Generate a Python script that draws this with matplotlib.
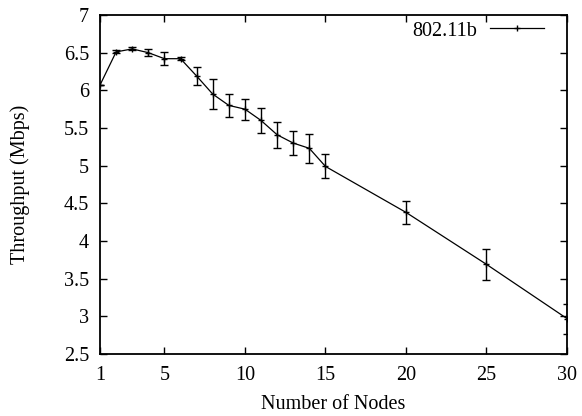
import matplotlib
matplotlib.use("Agg")
import matplotlib.pyplot as plt
from matplotlib.lines import Line2D

nodes = [1, 2, 3, 4, 5, 6, 7, 8, 9, 10, 11, 12, 13, 14, 15, 20, 25, 30]
throughput = [6.07, 6.51, 6.55, 6.50, 6.42, 6.42, 6.19, 5.95, 5.80, 5.75, 5.60, 5.41, 5.30, 5.23, 4.99, 4.38, 3.69, 2.97]
errors = [0.0, 0.02, 0.02, 0.05, 0.09, 0.02, 0.12, 0.20, 0.15, 0.14, 0.16, 0.17, 0.16, 0.19, 0.16, 0.15, 0.21, 0.20]
xticks = [1, 5, 10, 15, 20, 25, 30]
yticks = [2.5, 3, 3.5, 4, 4.5, 5, 5.5, 6, 6.5, 7]

plt.rcParams['font.family'] = ['Liberation Serif', 'DejaVu Serif']
FS = 14.5

fig = plt.figure(figsize=(5.82, 4.16), dpi=100)
ax = fig.add_axes([100/582, 1-354/416, (567-100)/582, (354-15)/416])

ax.errorbar(nodes, throughput, yerr=errors, color='black', linewidth=0.9,
            elinewidth=1.0, capsize=2.6, capthick=1.0, marker='+', markersize=4,
            markeredgewidth=1.0)

ax.set_xlim(1, 30)
ax.set_ylim(2.5, 7)
ax.set_xticks(xticks)
ax.set_xticklabels([str(v) for v in xticks])
ax.set_yticks(yticks)
ax.set_yticklabels([('%g' % v) for v in yticks])
ax.tick_params(direction='in', top=True, right=True, length=5, width=1.0,
               labelsize=FS)
ax.tick_params(axis='x', pad=9)
ax.tick_params(axis='y', pad=8)
for s in ax.spines.values():
    s.set_linewidth(1.3)

ax.set_xlabel('Number of Nodes', fontsize=FS, labelpad=7)
ax.set_ylabel('Throughput (Mbps)', fontsize=FS, labelpad=24)

handle = Line2D([], [], color='black', linewidth=0.9, marker='+',
                markersize=4, markeredgewidth=1.0)
ax.legend([handle], ['802.11b'], loc='center right',
          bbox_to_anchor=(544/582, 1-31/416), bbox_transform=fig.transFigure,
          frameon=False, fontsize=FS, markerfirst=False, handlelength=2.7,
          borderpad=0, borderaxespad=0, handletextpad=0.6)

fig.savefig('out.png', dpi=100)
